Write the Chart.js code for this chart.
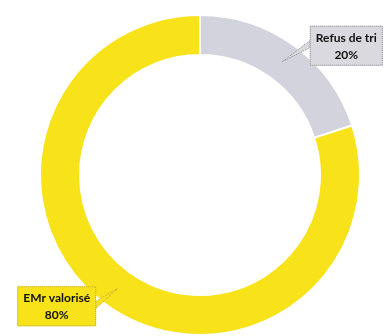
<!DOCTYPE html>
<html>
<head>
<meta charset="utf-8">
<script src="https://cdn.jsdelivr.net/npm/chart.js@4"></script>
<style>
  html, body { margin: 0; padding: 0; background: #fff; }
  #wrap { width: 392px; height: 336px; }
</style>
</head>
<body>
<div id="wrap"><canvas id="myChart" width="392" height="336"></canvas></div>
<script>
const labels = ["Refus de tri", "EMr valorisé"];
const values = [20, 80];
const colors = ["#d3d3dd", "#f8e219"];
const boxColors = ["#d9d9df", "#f8e219"];
const boxBorders = ["#8a8a8a", "#b9a94a"];
// callout box offset from the slice middle
const calloutOffsets = [[64, -16], [-61, 18]];

const calloutPlugin = {
  id: 'callouts',
  afterDraw(chart) {
    const ctx = chart.ctx;
    const meta = chart.getDatasetMeta(0);
    const total = values.reduce((a, b) => a + b, 0);
    ctx.save();
    ctx.font = 'bold 12px Lato, "Open Sans", sans-serif';
    ctx.textAlign = 'center';
    ctx.textBaseline = 'middle';
    meta.data.forEach((arc, i) => {
      const tip = arc.tooltipPosition();
      const cx = tip.x + calloutOffsets[i][0];
      const cy = tip.y + calloutOffsets[i][1];
      const line1 = labels[i];
      const line2 = Math.round(values[i] / total * 100) + '%';
      const w = Math.max(ctx.measureText(line1).width, ctx.measureText(line2).width) + 12;
      const h = 40;
      const x0 = cx - w / 2, y0 = cy - h / 2;
      // pointer
      const side = tip.x < cx ? x0 : x0 + w;
      ctx.beginPath();
      ctx.moveTo(side, cy - 5);
      ctx.lineTo(tip.x, tip.y);
      ctx.lineTo(side, cy + 2);
      ctx.closePath();
      ctx.fillStyle = boxColors[i];
      ctx.fill();
      ctx.strokeStyle = boxBorders[i];
      ctx.lineWidth = 1;
      ctx.setLineDash([1, 1]);
      ctx.stroke();
      // box
      ctx.fillStyle = boxColors[i];
      ctx.fillRect(x0, y0, w, h);
      ctx.strokeRect(x0 + 0.5, y0 + 0.5, w - 1, h - 1);
      ctx.setLineDash([]);
      ctx.fillStyle = '#111';
      ctx.fillText(line1, cx, cy - 8);
      ctx.fillText(line2, cx, cy + 9);
    });
    ctx.restore();
  }
};

new Chart(document.getElementById('myChart'), {
  type: 'doughnut',
  data: {
    labels: labels,
    datasets: [{
      data: values,
      backgroundColor: colors,
      borderColor: '#ffffff',
      borderWidth: 2
    }]
  },
  options: {
    responsive: false,
    animation: false,
    cutout: '75%',
    layout: { padding: { top: 14, left: 8, right: 0, bottom: 0 } },
    plugins: {
      legend: { display: false },
      tooltip: { enabled: false }
    }
  },
  plugins: [calloutPlugin]
});
</script>
</body>
</html>
